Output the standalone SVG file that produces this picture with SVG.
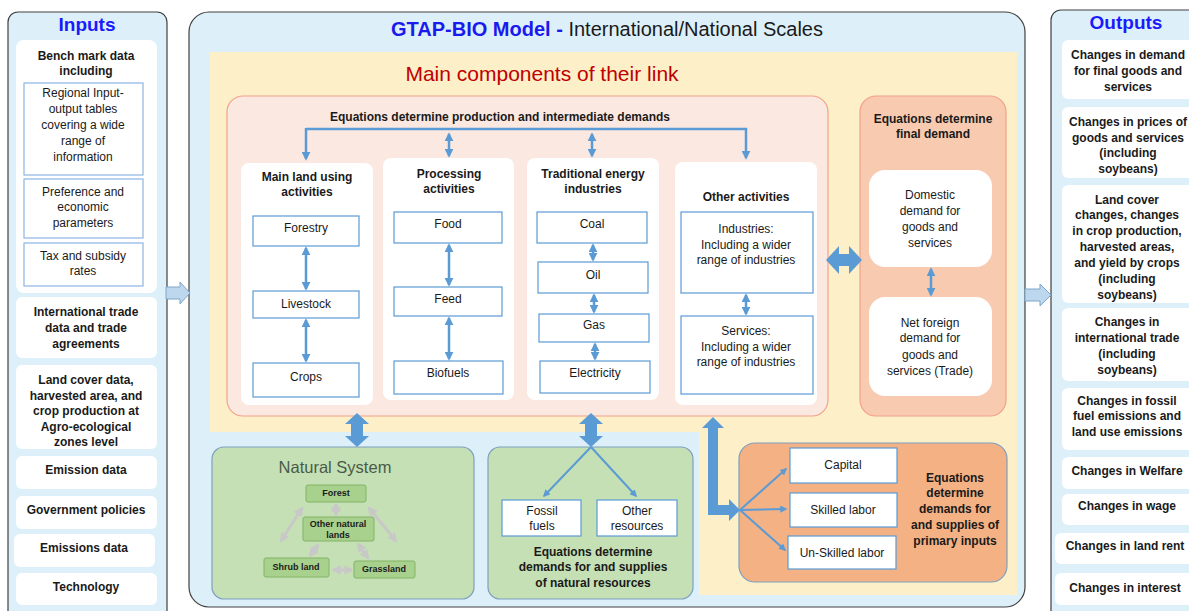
<svg xmlns="http://www.w3.org/2000/svg" width="1189" height="611" viewBox="0 0 1189 611">
<defs>
<style>
text{font-family:"Liberation Sans",Arial,sans-serif;fill:#1a1a1a;text-anchor:middle;dominant-baseline:central}
.b{font-weight:bold}
.s12{font-size:12px}
.s9{font-size:9px}
.panel{fill:#ddf0fa;stroke:#404040;stroke-width:1.2}
.wbox{fill:#ffffff;stroke:none}
.ibox{fill:#ffffff;stroke:#5b9bd5;stroke-width:1.2}
.ibox2{fill:#ffffff;stroke:#8eb4e3;stroke-width:1.2}
.green{fill:#c5e0b4;stroke:#7f9fbf;stroke-width:1.2}
.gbox{fill:#a9d18e;stroke:#82b366;stroke-width:1}
.conn{stroke:#5b9bd5;stroke-width:2.5;fill:none}
.dbl{stroke:#5b9bd5;stroke-width:2.5;fill:none;marker-start:url(#ah);marker-end:url(#ah)}
.gray{stroke:#c8c8c8;stroke-width:3;fill:none;marker-start:url(#gh);marker-end:url(#gh)}
.fat{fill:#5b9bd5;stroke:none}
.blk{fill:#bdd7ee;stroke:#7ea6c9;stroke-width:1}
</style>
<marker id="ah" viewBox="0 0 10 10" refX="8" refY="5" markerWidth="3.6" markerHeight="3.6" orient="auto-start-reverse" markerUnits="strokeWidth"><path d="M0,0 L10,5 L0,10 z" fill="#5b9bd5"/></marker>
<marker id="ah1" viewBox="0 0 10 10" refX="8" refY="5" markerWidth="3.6" markerHeight="3.6" orient="auto" markerUnits="strokeWidth"><path d="M0,0 L10,5 L0,10 z" fill="#5b9bd5"/></marker>
<marker id="gh" viewBox="0 0 10 10" refX="8" refY="5" markerWidth="3.2" markerHeight="3.2" orient="auto-start-reverse" markerUnits="strokeWidth"><path d="M0,0 L10,5 L0,10 z" fill="#c8c8c8"/></marker>
</defs>
<rect width="1189" height="611" fill="#ffffff"/>

<!-- Inputs panel -->
<g id="inputs">
<rect class="panel" x="8" y="12" width="159" height="610" rx="10"/>
<text x="87" y="24" style="font-size:19px;font-weight:bold;fill:#1a1aff">Inputs</text>
<rect class="wbox" x="16" y="40" width="141" height="253" rx="8"/>
<text class="b s12" x="86" y="56">Bench mark data</text>
<text class="b s12" x="86" y="71">including</text>
<rect class="ibox2" x="24" y="83" width="119" height="92"/>
<text class="s12" x="83" y="93">Regional Input-</text>
<text class="s12" x="83" y="109">output tables</text>
<text class="s12" x="83" y="125">covering a wide</text>
<text class="s12" x="83" y="141">range of</text>
<text class="s12" x="83" y="157">information</text>
<rect class="ibox2" x="24" y="179" width="119" height="59"/>
<text class="s12" x="83" y="192">Preference and</text>
<text class="s12" x="83" y="207">economic</text>
<text class="s12" x="83" y="223">parameters</text>
<rect class="ibox2" x="24" y="243" width="119" height="43"/>
<text class="s12" x="83" y="256">Tax and subsidy</text>
<text class="s12" x="83" y="271">rates</text>
<rect class="wbox" x="16" y="297" width="141" height="61" rx="6"/>
<text class="b s12" x="86" y="312">International trade</text>
<text class="b s12" x="86" y="328">data and trade</text>
<text class="b s12" x="86" y="344">agreements</text>
<rect class="wbox" x="16" y="365" width="141" height="84" rx="6"/>
<text class="b s12" x="86" y="380">Land cover data,</text>
<text class="b s12" x="86" y="396">harvested area,  and</text>
<text class="b s12" x="86" y="411">crop production at</text>
<text class="b s12" x="86" y="427">Agro-ecological</text>
<text class="b s12" x="86" y="442">zones level</text>
<rect class="wbox" x="16" y="456" width="141" height="33" rx="6"/>
<text class="b s12" x="86" y="470">Emission data</text>
<rect class="wbox" x="16" y="496" width="141" height="33" rx="6"/>
<text class="b s12" x="86" y="510">Government policies</text>
<rect class="wbox" x="14" y="534" width="141" height="33" rx="6"/>
<text class="b s12" x="84" y="548">Emissions data</text>
<rect class="wbox" x="16" y="573" width="141" height="32" rx="6"/>
<text class="b s12" x="86" y="587">Technology</text>
</g>

<!-- Outputs panel -->
<g id="outputs">
<rect class="panel" x="1051" y="10" width="160" height="612" rx="10"/>
<text x="1126" y="22" style="font-size:19px;font-weight:bold;fill:#1a1aff">Outputs</text>
<rect class="wbox" x="1062" y="40" width="140" height="59" rx="6"/>
<text class="b s12" x="1128" y="55">Changes in demand</text>
<text class="b s12" x="1128" y="71">for final goods and</text>
<text class="b s12" x="1128" y="87">services</text>
<rect class="wbox" x="1062" y="107" width="140" height="71" rx="6"/>
<text class="b s12" x="1128" y="122">Changes in prices of</text>
<text class="b s12" x="1128" y="138">goods and services</text>
<text class="b s12" x="1128" y="153">(including</text>
<text class="b s12" x="1128" y="169">soybeans)</text>
<rect class="wbox" x="1062" y="185" width="140" height="118" rx="6"/>
<text class="b s12" x="1127" y="200">Land cover</text>
<text class="b s12" x="1127" y="215">changes, changes</text>
<text class="b s12" x="1127" y="231">in crop production,</text>
<text class="b s12" x="1127" y="247">harvested areas,</text>
<text class="b s12" x="1127" y="263">and yield by crops</text>
<text class="b s12" x="1127" y="279">(including</text>
<text class="b s12" x="1127" y="295">soybeans)</text>
<rect class="wbox" x="1062" y="308" width="140" height="73" rx="6"/>
<text class="b s12" x="1127" y="322">Changes in</text>
<text class="b s12" x="1127" y="338">international trade</text>
<text class="b s12" x="1127" y="354">(including</text>
<text class="b s12" x="1127" y="370">soybeans)</text>
<rect class="wbox" x="1062" y="388" width="140" height="62" rx="6"/>
<text class="b s12" x="1127" y="401">Changes in fossil</text>
<text class="b s12" x="1127" y="416">fuel emissions and</text>
<text class="b s12" x="1127" y="432">land use emissions</text>
<rect class="wbox" x="1062" y="457" width="140" height="32" rx="6"/>
<text class="b s12" x="1127" y="471">Changes in Welfare</text>
<rect class="wbox" x="1062" y="494" width="140" height="31" rx="6"/>
<text class="b s12" x="1127" y="506">Changes in wage</text>
<rect class="wbox" x="1055" y="533" width="147" height="31" rx="6"/>
<text class="b s12" x="1125" y="546">Changes in land rent</text>
<rect class="wbox" x="1055" y="573" width="147" height="32" rx="6"/>
<text class="b s12" x="1125" y="588">Changes in interest</text>
</g>

<!-- Main panel -->
<g id="main">
<rect class="panel" x="189" y="12" width="836" height="595" rx="20"/>
<text x="607" y="29" style="font-size:20px"><tspan style="font-weight:bold;fill:#1a1aee">GTAP-BIO Model - </tspan><tspan>International/National Scales</tspan></text>
<path d="M210,52 H1017 V595 H699 V432 H210 Z" fill="#fdefc8"/>
<text x="542" y="73" style="font-size:21px;fill:#c00000">Main components of their link</text>
</g>

<!-- Production block -->
<g id="production">
<rect x="227" y="96" width="601" height="320" rx="16" fill="#fbe9e1" stroke="#f4a08a" stroke-width="1.2"/>
<text class="b s12" x="500" y="117">Equations determine production and intermediate demands</text>
</g>

<g id="mainland">
<rect class="wbox" x="241" y="163" width="132" height="242" rx="8"/>
<text class="b s12" x="307" y="177">Main land using</text>
<text class="b s12" x="307" y="192">activities</text>
<rect class="ibox" x="253" y="216" width="106" height="30"/>
<text class="s12" x="306" y="228">Forestry</text>
<rect class="ibox" x="253" y="291" width="106" height="27"/>
<text class="s12" x="306" y="304">Livestock</text>
<rect class="ibox" x="253" y="363" width="106" height="34"/>
<text class="s12" x="306" y="377">Crops</text>
</g>

<g id="processing">
<rect class="wbox" x="383" y="158" width="131" height="242" rx="8"/>
<text class="b s12" x="449" y="174">Processing</text>
<text class="b s12" x="449" y="189">activities</text>
<rect class="ibox" x="394" y="212" width="108" height="31"/>
<text class="s12" x="448" y="224">Food</text>
<rect class="ibox" x="394" y="287" width="108" height="29"/>
<text class="s12" x="448" y="299">Feed</text>
<rect class="ibox" x="394" y="361" width="109" height="33"/>
<text class="s12" x="448" y="373">Biofuels</text>
</g>

<g id="energy">
<rect class="wbox" x="527" y="158" width="132" height="242" rx="8"/>
<text class="b s12" x="593" y="174">Traditional energy</text>
<text class="b s12" x="593" y="189">industries</text>
<rect class="ibox" x="537" y="212" width="110" height="31"/>
<text class="s12" x="592" y="224">Coal</text>
<rect class="ibox" x="538" y="262" width="110" height="31"/>
<text class="s12" x="593" y="275">Oil</text>
<rect class="ibox" x="539" y="314" width="110" height="28"/>
<text class="s12" x="594" y="325">Gas</text>
<rect class="ibox" x="540" y="361" width="110" height="32"/>
<text class="s12" x="595" y="373">Electricity</text>
</g>

<g id="other">
<rect class="wbox" x="675" y="162" width="142" height="243" rx="8"/>
<text class="b s12" x="746" y="197">Other activities</text>
<rect class="ibox" x="681" y="212" width="132" height="81"/>
<text class="s12" x="746" y="229">Industries:</text>
<text class="s12" x="746" y="245">Including  a wider</text>
<text class="s12" x="746" y="260">range of industries</text>
<rect class="ibox" x="681" y="316" width="132" height="78"/>
<text class="s12" x="746" y="331">Services:</text>
<text class="s12" x="746" y="347">Including  a wider</text>
<text class="s12" x="746" y="362">range of industries</text>
</g>

<g id="finaldemand">
<rect x="860" y="96" width="146" height="320" rx="16" fill="#f8cbb0" stroke="#f4a08a" stroke-width="1.2"/>
<text class="b s12" x="933" y="119">Equations determine</text>
<text class="b s12" x="933" y="134">final demand</text>
<rect class="wbox" x="869" y="170" width="123" height="97" rx="16"/>
<text class="s12" x="930" y="195">Domestic</text>
<text class="s12" x="930" y="211">demand for</text>
<text class="s12" x="930" y="227">goods and</text>
<text class="s12" x="930" y="243">services</text>
<rect class="wbox" x="869" y="297" width="123" height="99" rx="16"/>
<text class="s12" x="930" y="323">Net foreign</text>
<text class="s12" x="930" y="338">demand for</text>
<text class="s12" x="930" y="355">goods and</text>
<text class="s12" x="930" y="371">services (Trade)</text>
</g>

<g id="naturalsystem">
<rect class="green" x="212" y="447" width="262" height="152" rx="12"/>
<text x="335" y="467" style="font-size:16.5px;fill:#4a5a4a">Natural System</text>
<rect class="gbox" x="306" y="485" width="60" height="17" rx="2"/>
<text class="b s9" x="336" y="493">Forest</text>
<rect class="gbox" x="303" y="517" width="71" height="24" rx="2"/>
<text class="b s9" x="338" y="524">Other natural</text>
<text class="b s9" x="338" y="535">lands</text>
<rect class="gbox" x="264" y="558" width="65" height="19" rx="2"/>
<text class="b s9" x="296" y="567">Shrub  land</text>
<rect class="gbox" x="354" y="561" width="61" height="17" rx="2"/>
<text class="b s9" x="384" y="569">Grassland</text>
</g>

<g id="naturalresources">
<rect class="green" x="488" y="447" width="205" height="152" rx="12"/>
<rect class="ibox" x="502" y="500" width="79" height="36"/>
<text class="s12" x="542" y="511">Fossil</text>
<text class="s12" x="542" y="526">fuels</text>
<rect class="ibox" x="597" y="500" width="80" height="36"/>
<text class="s12" x="637" y="511">Other</text>
<text class="s12" x="637" y="526">resources</text>
<text class="b s12" x="593" y="552">Equations determine</text>
<text class="b s12" x="593" y="567">demands for and supplies</text>
<text class="b s12" x="593" y="583">of natural resources</text>
</g>

<g id="primaryinputs">
<rect x="739" y="443" width="268" height="139" rx="16" fill="#f4b183" stroke="#7f9fbf" stroke-width="1.2"/>
<rect class="ibox" x="790" y="448" width="107" height="35"/>
<text class="s12" x="843" y="465">Capital</text>
<rect class="ibox" x="790" y="493" width="107" height="34"/>
<text class="s12" x="843" y="510">Skilled labor</text>
<rect class="ibox" x="788" y="536" width="108" height="33"/>
<text class="s12" x="842" y="553">Un-Skilled labor</text>
<text class="b s12" x="955" y="478">Equations</text>
<text class="b s12" x="955" y="493">determine</text>
<text class="b s12" x="955" y="509">demands for</text>
<text class="b s12" x="955" y="525">and supplies of</text>
<text class="b s12" x="955" y="541">primary inputs</text>
</g>

<!-- Connectors -->
<g id="connectors">
<polygon class="blk" points="166,287 180,287 180,282 190,293 180,304 180,299 166,299"/>
<polygon class="blk" points="1025,289 1040,289 1040,284 1051,295 1040,306 1040,301 1025,301"/>
<path class="conn" d="M306,129 H746 V158" marker-end="url(#ah1)"/>
<path class="conn" d="M306,128 V159" marker-end="url(#ah1)"/>
<line class="dbl" x1="449" y1="134" x2="449" y2="156"/>
<line class="dbl" x1="592" y1="134" x2="592" y2="156"/>
<line class="dbl" x1="306" y1="248" x2="306" y2="289"/>
<line class="dbl" x1="306" y1="320" x2="306" y2="361"/>
<line class="dbl" x1="449" y1="245" x2="449" y2="285"/>
<line class="dbl" x1="449" y1="318" x2="449" y2="359"/>
<line class="dbl" x1="593" y1="245" x2="593" y2="260"/>
<line class="dbl" x1="594" y1="295" x2="594" y2="312"/>
<line class="dbl" x1="595" y1="344" x2="595" y2="359"/>
<line class="dbl" x1="746" y1="295" x2="746" y2="314"/>
<line class="dbl" x1="931" y1="269" x2="931" y2="295"/>
<polygon class="fat" points="826,260 839,246 839,254 849,254 849,246 862,260 849,274 849,266 839,266 839,274"/>
<polygon class="fat" points="357,413 369,424 363,424 363,436 369,436 357,447 345,436 351,436 351,424 345,424"/>
<polygon class="fat" points="591,413 603,424 597,424 597,436 603,436 591,447 579,436 585,436 585,424 579,424"/>
<polygon class="fat" points="713,417 724,428 718,428 718,505 729,505 729,499 740,510 729,521 729,515 708,515 708,428 702,428"/>
<line class="conn" x1="591" y1="447" x2="544" y2="496" marker-end="url(#ah1)" style="stroke-width:2"/>
<line class="conn" x1="591" y1="447" x2="636" y2="496" marker-end="url(#ah1)" style="stroke-width:2"/>
<line class="conn" x1="740" y1="510" x2="786" y2="469" marker-end="url(#ah1)" style="stroke-width:2"/>
<line class="conn" x1="740" y1="510" x2="786" y2="509" marker-end="url(#ah1)" style="stroke-width:2"/>
<line class="conn" x1="740" y1="510" x2="785" y2="550" marker-end="url(#ah1)" style="stroke-width:2"/>
<line class="gray" x1="336" y1="504" x2="336" y2="515"/>
<line class="gray" x1="302" y1="508" x2="281" y2="541"/>
<line class="gray" x1="369" y1="508" x2="396" y2="541"/>
<line class="gray" x1="318" y1="545" x2="310" y2="556"/>
<line class="gray" x1="358" y1="544" x2="368" y2="558"/>
<line class="gray" x1="333" y1="570" x2="352" y2="570"/>
</g>
</svg>
